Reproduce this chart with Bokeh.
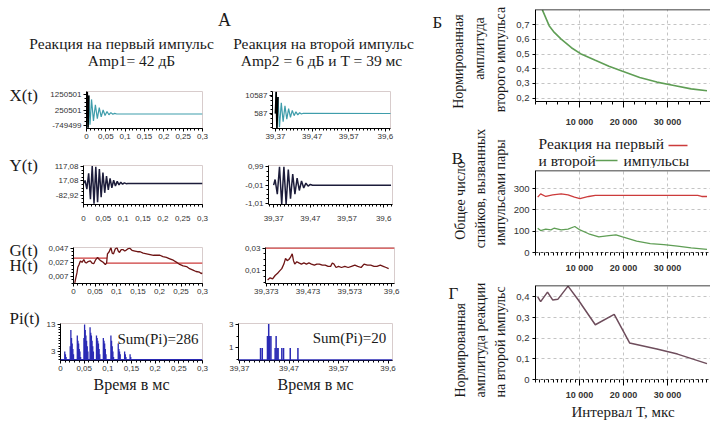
import math
from bokeh.plotting import figure
from bokeh.models import Range1d, FixedTicker, CustomJSTickFormatter, Span
from bokeh.layouts import row, column
from bokeh.embed import file_html
from bokeh.resources import INLINE
from bokeh.core.properties import value

# ---------------- data ----------------
# Panel A, response to the first pulse (time, ms)
x1_t = [0, 0.002, 0.004, 0.006, 0.009, 0.013, 0.018, 0.023, 0.028, 0.033, 0.038, 0.043,
        0.048, 0.053, 0.058, 0.063, 0.068, 0.073, 0.078, 0.3]
x1_v = [501, 1450000, -900000, 1200000, -700000, 950000, -450000, 600000, -300000, 420000,
        -180000, 260000, -100000, 160000, -50000, 90000, -20000, 40000, 501, 501]
y1_t = [0, 0.004, 0.0085, 0.013, 0.0175, 0.022, 0.0265, 0.031, 0.0355, 0.04, 0.0445, 0.049,
        0.0535, 0.058, 0.0625, 0.067, 0.0715, 0.076, 0.0805, 0.085, 0.0895, 0.094, 0.0985,
        0.103, 0.1075, 0.112, 0.3]
y1_v = [0, 20, -40, 70, -110, 120, -140, 115, -130, 100, -95, 75, -65, 50, -45, 35, -30, 22,
        -18, 14, -10, 8, -6, 4, -2, 0, 0]
g1_t = [0.003, 0.005, 0.008, 0.010, 0.013, 0.016, 0.020, 0.024, 0.027, 0.030,
        0.034, 0.039, 0.043, 0.047, 0.051, 0.056, 0.060, 0.064, 0.069, 0.074,
        0.077, 0.079, 0.083, 0.087, 0.090, 0.093, 0.097, 0.101, 0.104, 0.107,
        0.111, 0.115, 0.119, 0.122, 0.126, 0.131, 0.136, 0.143, 0.149, 0.155,
        0.162, 0.170, 0.178, 0.186, 0.194, 0.201, 0.208, 0.216, 0.224, 0.232,
        0.240, 0.247, 0.255, 0.263, 0.270, 0.278, 0.285, 0.293, 0.297, 0.300]
g1_v = [-0.002, 0.004, 0.012, 0.020, 0.024, 0.029, 0.027, 0.031, 0.027, 0.026,
        0.028, 0.029, 0.026, 0.025, 0.030, 0.034, 0.031, 0.029, 0.027, 0.024,
        0.026, 0.039, 0.042, 0.048, 0.040, 0.039, 0.046, 0.048, 0.043, 0.041,
        0.045, 0.045, 0.043, 0.044, 0.046, 0.047, 0.044, 0.043, 0.042, 0.042,
        0.040, 0.039, 0.038, 0.037, 0.037, 0.037, 0.035, 0.034, 0.032, 0.030,
        0.027, 0.024, 0.022, 0.021, 0.018, 0.016, 0.014, 0.013, 0.011, 0.012]
h1_start = [0, 0.078]
h1_end = [0.078, 0.3]
h1_v = [0.033, 0.026]
p1_t = [0.0090, 0.0104, 0.0118,
        0.0205, 0.0219, 0.0233, 0.0247, 0.0261, 0.0275,
        0.0355, 0.0369, 0.0383, 0.0397, 0.0411, 0.0425,
        0.0495, 0.0509, 0.0523, 0.0537, 0.0551, 0.0565, 0.0579,
        0.0625, 0.0639, 0.0653, 0.0667, 0.0681, 0.0695,
        0.0760, 0.0774, 0.0788, 0.0802, 0.0816, 0.0830,
        0.0905, 0.0919, 0.0933, 0.0947, 0.0961,
        0.1065, 0.1079, 0.1093, 0.1107, 0.1121,
        0.1220, 0.1234, 0.1248, 0.1262,
        0.1355, 0.1369, 0.1383,
        0.1470, 0.1484]
p1_h = [3, 2, 1,
        5, 11, 8, 6, 4, 2,
        9, 7, 6, 4, 3, 1,
        8, 13, 11, 9, 7, 5, 3,
        12, 10, 9, 7, 5, 3,
        9, 8, 7, 6, 4, 2,
        8, 7, 6, 4, 2,
        9, 7, 5, 3, 1,
        6, 4, 3, 2,
        3, 2, 1,
        2, 1]

# Panel A, response to the second pulse
x2_t = [39.370, 39.372, 39.374, 39.377, 39.381, 39.386, 39.391, 39.396, 39.401, 39.406,
        39.411, 39.416, 39.421, 39.426, 39.431, 39.436, 39.441, 39.446, 39.69]
x2_v = [587, 12600, -7600, 9800, -7000, 6500, -4000, 4800, -2500, 3300, -1500, 2300, -600,
        1500, -200, 1000, 300, 700, 587]
y2_t = [39.370, 39.374, 39.380, 39.386, 39.392, 39.398, 39.404, 39.410, 39.416, 39.422,
        39.428, 39.434, 39.440, 39.446, 39.452, 39.458, 39.464, 39.470, 39.476, 39.69]
y2_v = [-0.01, 0.3, -0.5, 1.0, -1.05, 1.0, -1.05, 0.85, -0.75, 0.6, -0.5, 0.38, -0.3, 0.22,
        -0.16, 0.1, -0.06, 0.03, -0.01, -0.01]
g2_t = [39.376, 39.382, 39.388, 39.394, 39.400, 39.405, 39.410, 39.415, 39.419, 39.423,
        39.427, 39.431, 39.435, 39.438, 39.441, 39.446, 39.451, 39.457, 39.463, 39.469,
        39.475, 39.481, 39.488, 39.494, 39.500, 39.507, 39.514, 39.521, 39.527, 39.531,
        39.535, 39.540, 39.546, 39.553, 39.561, 39.569, 39.577, 39.585, 39.592, 39.600,
        39.607, 39.615, 39.623, 39.631, 39.638, 39.646, 39.653, 39.660, 39.666]
g2_v = [0.002, 0.004, 0.003, 0.006, 0.008, 0.010, 0.012, 0.016, 0.021, 0.019,
        0.020, 0.022, 0.025, 0.019, 0.016, 0.018, 0.017, 0.016, 0.017, 0.016,
        0.017, 0.016, 0.015, 0.016, 0.016, 0.015, 0.015, 0.014, 0.014, 0.017,
        0.016, 0.013, 0.014, 0.013, 0.014, 0.013, 0.014, 0.015, 0.014, 0.013,
        0.016, 0.015, 0.015, 0.014, 0.014, 0.015, 0.014, 0.013, 0.012]
h2_level = 0.03
p2_t = [39.4125, 39.4160, 39.4265, 39.4290, 39.4310, 39.4335, 39.4420, 39.4440, 39.4460,
        39.4480, 39.4555, 39.4590, 39.4725, 39.4880]
p2_h = [1, 1, 2, 3, 2, 2, 1, 2, 1, 1, 1, 1, 1, 1]

sum_first = "Sum(Pi)=286"
sum_second = "Sum(Pi)=20"

# Tick values / labels of panel A
xt_first = [0, 0.05, 0.1, 0.15, 0.2, 0.25, 0.3]
xt_second = [39.37, 39.47, 39.57, 39.67]
xl_second = ["39,37", "39,47", "39,57", "39,6"]
xt_second_g = [39.373, 39.473, 39.573, 39.673]
xl_second_g = ["39,373", "39,473", "39,573", "39,6"]
yt_x1 = [-749499, 250501, 1250501]
yt_x2 = [587, 10587]
yt_y1 = [-82.92, 17.08, 117.08]
yt_y2 = [-1.01, -0.01, 0.99]
yt_g1 = [0.007, 0.027, 0.047]
yt_g2 = [0.01, 0.03]
yt_p1 = [3, 13]
yt_p2 = [1, 3]

# Panels Б, В, Г (interval T, мкс)
b_T = [1560, 3100, 4270, 5840, 8170, 10500, 13600, 16700, 19800, 23700, 27600, 31500, 35400, 39000]
b_amp = [0.80, 0.693, 0.647, 0.601, 0.543, 0.498, 0.457, 0.417, 0.383, 0.341, 0.309, 0.286, 0.263, 0.250]
v_red_T = [500, 1170, 2340, 3900, 5840, 7400, 8870, 10100, 12100, 13600, 16700, 36900, 37800, 39000]
v_red = [260, 275, 263, 271, 275, 271, 260, 253, 263, 268, 268, 268, 263, 263]
v_green_T = [500, 1170, 2340, 3500, 4200, 5840, 7400, 8940, 10100, 12100, 14400, 16700, 18300,
             19800, 23000, 26100, 29200, 32300, 35400, 39000]
v_green = [114, 103, 110, 106, 114, 106, 110, 122, 106, 88, 73, 79, 83, 73, 53, 42, 37, 30, 22, 15]
g_T = [500, 1170, 2730, 3900, 5070, 7400, 9740, 13600, 17900, 21400, 27600, 32300, 39000]
g_amp = [0.400, 0.377, 0.423, 0.385, 0.388, 0.452, 0.385, 0.265, 0.315, 0.177, 0.148, 0.123, 0.077]
T_ticks = [10000, 20000, 30000]
yt_b = [0.2, 0.3, 0.4, 0.5, 0.6, 0.7]
yt_v = [0, 100, 200, 300]
yt_gg = [0, 0.1, 0.2, 0.3, 0.4]

# ---------------- styling ----------------
SERIF = "Liberation Serif"
SANS = "Liberation Sans"
INK = "#1a1a1a"
TEAL = "#3f9dab"
NAVY = "#1c1c3a"
DARKRED = "#6e1414"
RED = "#cc3b3b"
BLUE = "#2a2ab4"
GREEN = "#5f9e55"
MAUVE = "#6e4d5c"
GRID = "#c4c4c4"


def text_fig(x0, y0, x1, y1):
    p = figure(width=x1 - x0, height=y1 - y0, x_range=Range1d(x0, x1),
               y_range=Range1d(y1, y0), x_axis_type=None, y_axis_type=None,
               toolbar_location=None, output_backend="svg", min_border=0)
    p.outline_line_color = None
    p.frame_align = False
    return p


def put(p, x, y, s, size, font=SERIF, align="left", angle=0.0, color=INK):
    p.text(x=[x], y=[y], text=[s], text_font=value(font), text_font_size=f"{size}px",
           text_align=align, text_baseline="middle", angle=angle, text_color=color)


def js_fmt(code, **args):
    return CustomJSTickFormatter(args=args, code=code)


def style_axis(ax, size="8px", tick_out=3, minor_out=2, standoff=2):
    ax.axis_line_color = "black"
    ax.major_tick_line_color = "black"
    ax.minor_tick_line_color = "black"
    ax.major_tick_out = tick_out
    ax.major_tick_in = 0
    ax.minor_tick_out = minor_out
    ax.minor_tick_in = 0
    ax.major_label_text_font = SANS
    ax.major_label_text_font_size = size
    ax.major_label_text_color = "#333333"
    ax.major_label_standoff = standoff


def small(box, frame, xr, yr):
    ox0, oy0, ox1, oy1 = box
    fx0, fy0, fx1, fy1 = frame
    p = figure(width=ox1 - ox0, height=oy1 - oy0, x_range=Range1d(*xr), y_range=Range1d(*yr),
               min_border_left=fx0 - ox0, min_border_right=ox1 - fx1,
               min_border_top=fy0 - oy0, min_border_bottom=oy1 - fy1,
               toolbar_location=None, output_backend="svg")
    p.frame_align = False
    p.grid.visible = False
    p.outline_line_color = "#d8cccc"
    style_axis(p.xaxis[0])
    style_axis(p.yaxis[0])
    return p


def steps(a, b, step):
    n = int(round((b - a) / step))
    return [a + i * step for i in range(n + 1)]


fmt_first_x = "return (Math.round(tick*100)/100).toString().replace('.', ',');"

# ---- header ----
header = text_fig(0, 0, 420, 78)
put(header, 224, 19, "А", 18, align="center")
put(header, 121, 43, "Реакция на первый импульс", 15.5, align="center")
put(header, 131, 60, "Amp1= 42 дБ", 15.5, align="center")
put(header, 323, 43, "Реакция на второй импульс", 15.5, align="center")
put(header, 325, 60, "Amp2 = 6 дБ  и  T = 39 мс", 15.5, align="center")

# ---- row labels ----
lbX = text_fig(0, 78, 43, 150)
put(lbX, 9, 95, "X(t)", 17)
lbY = text_fig(0, 150, 43, 232)
put(lbY, 9, 165, "Y(t)", 17)
lbG = text_fig(0, 232, 43, 305)
put(lbG, 9, 250, "G(t)", 17)
put(lbG, 9, 265, "H(t)", 17)
lbP = text_fig(0, 305, 43, 422)
put(lbP, 9, 318, "Pi(t)", 17)

# ---- first pulse ----
pX1 = small((43, 78, 222, 150), (86, 91, 202, 128), (0, 0.3), (-945000, 1466000))
pX1.xaxis.ticker = FixedTicker(ticks=xt_first, minor_ticks=steps(0, 0.3, 0.01))
pX1.xaxis.formatter = js_fmt(fmt_first_x)
pX1.yaxis.ticker = FixedTicker(ticks=yt_x1, minor_ticks=steps(-749499, 1250501, 250000))
pX1.yaxis.formatter = js_fmt("return String(tick);")
pX1.line(x1_t, x1_v, line_color=TEAL, line_width=1.2)
pX1.line(x1_t[:4], x1_v[:4], line_color="black", line_width=1.6)

pY1 = small((43, 150, 222, 232), (83, 165, 202, 204), (0, 0.3), (-146, 124))
pY1.xaxis.ticker = FixedTicker(ticks=xt_first, minor_ticks=steps(0, 0.3, 0.01))
pY1.xaxis.formatter = js_fmt(fmt_first_x)
pY1.xaxis.major_label_standoff = 8
pY1.yaxis.ticker = FixedTicker(ticks=yt_y1, minor_ticks=steps(-132.92, 117.08, 25))
pY1.yaxis.formatter = js_fmt("return tick.toFixed(2).replace('.', ',');")
pY1.line(y1_t, y1_v, line_color=NAVY, line_width=1.5)

pG1 = small((43, 232, 222, 305), (73, 247, 202, 283), (0, 0.3), (-0.003, 0.048))
pG1.xaxis.ticker = FixedTicker(ticks=xt_first, minor_ticks=steps(0, 0.3, 0.01))
pG1.xaxis.formatter = js_fmt(fmt_first_x)
pG1.yaxis.ticker = FixedTicker(ticks=yt_g1, minor_ticks=steps(-0.003, 0.047, 0.005))
pG1.yaxis.formatter = js_fmt("return tick.toFixed(3).replace('.', ',');")
pG1.segment(x0=h1_start, y0=h1_v, x1=h1_end, y1=h1_v, line_color=RED, line_width=1.3)
pG1.line(g1_t, g1_v, line_color=DARKRED, line_width=1.3)

pP1 = small((43, 305, 222, 422), (57, 323, 202, 360), (0, 0.3), (-0.3, 13.4))
pP1.xaxis.ticker = FixedTicker(ticks=xt_first, minor_ticks=steps(0, 0.3, 0.01))
pP1.xaxis.formatter = js_fmt(fmt_first_x)
pP1.yaxis.ticker = FixedTicker(ticks=yt_p1, minor_ticks=steps(0, 13, 1))
pP1.add_layout(Span(location=0, dimension="width", line_color=BLUE, line_width=1.5))
pP1.segment(x0=p1_t, y0=[0] * len(p1_t), x1=p1_t, y1=p1_h, line_color=BLUE, line_width=1.3)
pP1.text(x=[0.206], y=[7.8], text=[sum_first], text_font=value(SERIF), text_font_size="15px",
         text_align="center", text_baseline="middle", text_color=INK)

# ---- second pulse ----
pX2 = small((222, 78, 420, 150), (272, 91, 390, 128), (39.362, 39.684), (-7750, 12810))
pX2.xaxis.ticker = FixedTicker(ticks=xt_second, minor_ticks=steps(39.37, 39.68, 0.01))
pX2.xaxis.formatter = js_fmt("return labels[index];", labels=xl_second)
pX2.yaxis.ticker = FixedTicker(ticks=yt_x2, minor_ticks=steps(-7413, 12587, 2500))
pX2.yaxis.formatter = js_fmt("return String(tick);")
pX2.line(x2_t, x2_v, line_color=TEAL, line_width=1.2)
pX2.line(x2_t[:4], x2_v[:4], line_color="black", line_width=1.6)

pY2 = small((222, 150, 420, 232), (268, 165, 392, 204), (39.356, 39.694), (-1.07, 1.07))
pY2.xaxis.ticker = FixedTicker(ticks=xt_second, minor_ticks=steps(39.36, 39.69, 0.01))
pY2.xaxis.formatter = js_fmt("return labels[index];", labels=xl_second)
pY2.xaxis.major_label_standoff = 8
pY2.yaxis.ticker = FixedTicker(ticks=yt_y2, minor_ticks=steps(-1.01, 0.99, 0.25))
pY2.yaxis.formatter = js_fmt("return tick.toFixed(2).replace('.', ',');")
pY2.line(y2_t, y2_v, line_color=NAVY, line_width=1.5)

pG2 = small((222, 232, 420, 305), (265, 247, 394, 283), (39.371, 39.68), (-0.001, 0.0305))
pG2.xaxis.ticker = FixedTicker(ticks=xt_second_g, minor_ticks=steps(39.373, 39.673, 0.01))
pG2.xaxis.formatter = js_fmt("return labels[index];", labels=xl_second_g)
pG2.yaxis.ticker = FixedTicker(ticks=yt_g2, minor_ticks=steps(0, 0.03, 0.005))
pG2.yaxis.formatter = js_fmt("return tick.toFixed(2).replace('.', ',');")
pG2.add_layout(Span(location=h2_level, dimension="width", line_color=RED, line_width=1.5))
pG2.line(g2_t, g2_v, line_color=DARKRED, line_width=1.3)

pP2 = small((222, 305, 420, 422), (238, 323, 392, 360), (39.368, 39.679), (-0.05, 3.05))
pP2.xaxis.ticker = FixedTicker(ticks=xt_second, minor_ticks=steps(39.37, 39.67, 0.01))
pP2.xaxis.formatter = js_fmt("return labels[index];", labels=xl_second)
pP2.yaxis.ticker = FixedTicker(ticks=yt_p2, minor_ticks=[0, 1, 2, 3])
pP2.add_layout(Span(location=0, dimension="width", line_color=BLUE, line_width=1.5))
pP2.segment(x0=p2_t, y0=[0] * len(p2_t), x1=p2_t, y1=p2_h, line_color=BLUE, line_width=1.5)
pP2.text(x=[39.592], y=[1.8], text=[sum_second], text_font=value(SERIF), text_font_size="15px",
         text_align="center", text_baseline="middle", text_color=INK)

for p in (pP1, pP2):
    p.xaxis.axis_label = "Время в мс"
    p.xaxis.axis_label_text_font = SERIF
    p.xaxis.axis_label_text_font_size = "16px"
    p.xaxis.axis_label_text_font_style = "normal"
    p.xaxis.axis_label_text_color = INK
    p.xaxis.axis_label_standoff = 2

# ---- right side (Б, В, Г) ----
rstrip = text_fig(420, 0, 510, 422)
HALF = math.pi / 2
put(rstrip, 437, 22, "Б", 17, align="center")
put(rstrip, 458, 61, "Нормированная", 14, align="center", angle=HALF)
put(rstrip, 479, 48, "амплитуда", 14, align="center", angle=HALF)
put(rstrip, 500, 59, "второго импульса", 14, align="center", angle=HALF)
put(rstrip, 457, 158, "В", 17, align="center")
put(rstrip, 460, 200, "Общее число", 14, align="center", angle=HALF)
put(rstrip, 480, 188, "спайков, вызванных", 14, align="center", angle=HALF)
put(rstrip, 500, 192, "импульсами пары", 14, align="center", angle=HALF)
put(rstrip, 453, 293, "Г", 17, align="center")
put(rstrip, 460, 397, "Нормированная", 14, align="left", angle=HALF)
put(rstrip, 480, 397, "амплитуда  реакции", 14, align="left", angle=HALF)
put(rstrip, 500, 397, "на второй импульс", 14, align="left", angle=HALF)

fmt_T = "return String(tick).replace(/\\B(?=(\\d{3})+(?!\\d))/g, ' ');"


def big(oy0, oy1, fy0, fy1, yr, yt, yfmt, xminor, standoff, dashed_x):
    p = figure(width=200, height=oy1 - oy0, x_range=Range1d(0, 39800), y_range=Range1d(*yr),
               min_border_left=25, min_border_right=0, min_border_top=fy0 - oy0,
               min_border_bottom=oy1 - fy1, toolbar_location=None, output_backend="svg")
    p.frame_align = False
    p.outline_line_color = None
    p.add_layout(Span(location=yr[1], dimension="width", line_color="black", line_width=1.3))
    for g in (p.xgrid[0], p.ygrid[0]):
        g.grid_line_color = GRID
        g.grid_line_dash = "3 3"
    style_axis(p.xaxis[0], size="9px", tick_out=6, minor_out=3, standoff=standoff)
    style_axis(p.yaxis[0], size="9.5px", tick_out=3, minor_out=0, standoff=3)
    p.xaxis.ticker = FixedTicker(ticks=T_ticks, minor_ticks=list(range(0, 39801, xminor)))
    p.xaxis.formatter = js_fmt(fmt_T)
    p.xaxis.major_label_text_font_style = "bold"
    p.xgrid.ticker = FixedTicker(ticks=T_ticks)
    p.yaxis.ticker = FixedTicker(ticks=yt)
    p.yaxis.formatter = yfmt
    if dashed_x:
        p.xaxis.axis_line_dash = "3 2"
        p.xaxis.axis_line_color = "#444444"
    return p


pB = big(0, 132, 9, 101, (0.177, 0.803), yt_b,
         js_fmt("return tick.toFixed(1).replace('.', ',');"), 2500, 9, False)
pB.line(b_T, b_amp, line_color=GREEN, line_width=1.6)

legend = text_fig(510, 132, 710, 168)
put(legend, 538, 143, "Реакция на первый", 15.5)
legend.segment(x0=[668], y0=[145], x1=[687], y1=[145], line_color=RED, line_width=1.3)
put(legend, 538, 160, "и второй", 15.5)
legend.segment(x0=[595], y0=[160], x1=[617], y1=[160], line_color=GREEN, line_width=1.3)
put(legend, 623, 160, "импульсы", 15.5)

pV = big(168, 275, 170, 254, (0, 385), yt_v, js_fmt("return String(tick);"), 1000, 4, True)
pV.line(v_red_T, v_red, line_color=RED, line_width=1.3)
pV.line(v_green_T, v_green, line_color=GREEN, line_width=1.3)

pG = big(275, 422, 285, 384, (0, 0.455), yt_gg,
         js_fmt("return tick == 0 ? '0' : tick.toFixed(1).replace('.', ',');"), 1000, 4, True)
pG.line(g_T, g_amp, line_color=MAUVE, line_width=1.5)
pG.xaxis.axis_label = "Интервал T, мкс"
pG.xaxis.axis_label_text_font = SERIF
pG.xaxis.axis_label_text_font_size = "15px"
pG.xaxis.axis_label_text_font_style = "normal"
pG.xaxis.axis_label_text_color = INK
pG.xaxis.axis_label_standoff = 1

left_block = column(header,
                    row(lbX, pX1, pX2),
                    row(lbY, pY1, pY2),
                    row(lbG, pG1, pG2),
                    row(lbP, pP1, pP2))
right_block = row(rstrip, column(pB, legend, pV, pG))
layout = row(left_block, right_block)

with open("out.html", "w") as f:
    f.write(file_html(layout, INLINE, title="chart"))
